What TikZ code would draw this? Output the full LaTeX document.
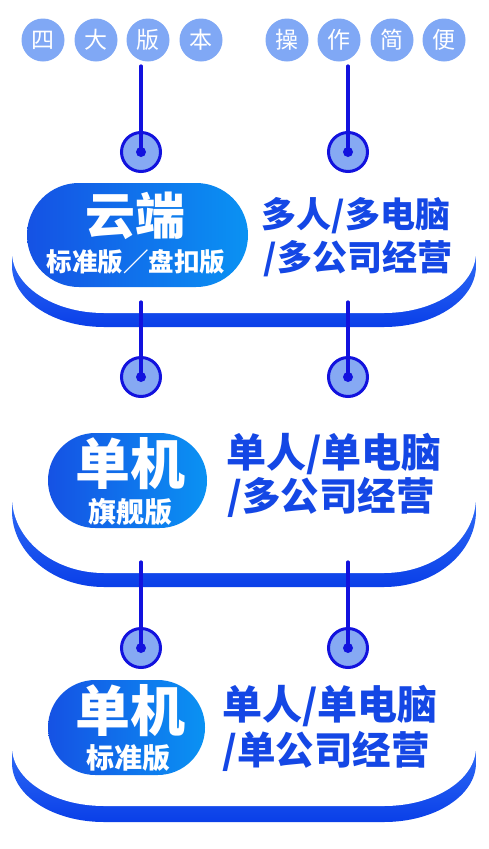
\documentclass[tikz,border=0pt]{standalone}
\usepackage{fontspec}
\setmainfont{Noto Sans CJK SC}
\definecolor{lineblue}{HTML}{1212DE}
\definecolor{dotfill}{HTML}{86A9F3}
\definecolor{topfill}{HTML}{80A8F5}
\definecolor{crestop}{HTML}{2F6CF6}
\definecolor{cresbot}{HTML}{0A3FE8}
\definecolor{textblue}{HTML}{1447E5}
\definecolor{pillleft}{HTML}{1552E4}
\definecolor{pillright}{HTML}{0A92F3}
\newcommand\mycres[4]{%
  \pgfmathsetmacro\ryw{#2-#1}%
  \pgfmathsetmacro\sh{#3-#2}%
  \shade[top color=crestop,bottom color=cresbot] (12,#1) -- (12,{#1+\sh}) .. controls (12,{#1+\sh+0.552*\ryw}) and ({12+0.448*#4},#3) .. ({12+#4},#3) -- ({476-#4},#3) .. controls ({476-0.448*#4},#3) and (476,{#1+\sh+0.552*\ryw}) .. (476,{#1+\sh}) -- (476,#1) -- cycle;
  \fill[white] (12,{#1-2}) -- (12,#1) .. controls (12,{#1+0.552*\ryw}) and ({12+0.448*#4},#2) .. ({12+#4},#2) -- ({476-#4},#2) .. controls ({476-0.448*#4},#2) and (476,{#1+0.552*\ryw}) .. (476,#1) -- (476,{#1-2}) -- cycle;
}
\begin{document}
\begin{tikzpicture}[x=1pt,y=-1pt,
  topc/.style={circle,fill=topfill,minimum size=43pt,inner sep=0pt,text=white,font=\fontsize{23}{23}\selectfont},
  dotc/.style={circle,draw=lineblue,line width=3pt,fill=dotfill,minimum size=39pt,inner sep=0pt},
  conn/.style={draw=lineblue,line width=3.2pt,line cap=round},
  pill/.style={rounded corners=#1,inner sep=0pt,left color=pillleft,right color=pillright},
  wtext/.style={text=white,inner sep=0pt,font=\bfseries\fontsize{#1}{#1}\selectfont},
  btext/.style={text=textblue,inner sep=0pt,font=\bfseries\fontsize{#1}{#1}\selectfont}]
\useasboundingbox (0,0) rectangle (489,849);
\fill[white] (0,0) rectangle (489,849);

% top labels
\node[topc] (t1) at (43,40) {四};
\node[topc] (t2) at (96,40) {大};
\node[topc] (t3) at (148,40) {版};
\node[topc] (t4) at (201,40) {本};
\node[topc] (t5) at (287,40) {操};
\node[topc] (t6) at (339,40) {作};
\node[topc] (t7) at (392,40) {简};
\node[topc] (t8) at (444,40) {便};

% crescents
\mycres{252}{313}{327}{92}
\mycres{497}{573}{587}{92}
\mycres{747}{806}{822}{92}

% connector start points
\coordinate (a1) at (141,66);
\coordinate (b1) at (348,66);
\coordinate (a2) at (141,302);
\coordinate (b2) at (348,302);
\coordinate (a3) at (141,562);
\coordinate (b3) at (348,562);

% dot circles
\node[dotc] (ca1) at (141,152) {};
\node[dotc] (cb1) at (348,152) {};
\node[dotc] (ca2) at (141,377) {};
\node[dotc] (cb2) at (348,377) {};
\node[dotc] (ca3) at (141,648) {};
\node[dotc] (cb3) at (348,648) {};

\draw[conn] (a1) -- (ca1.center);
\draw[conn] (b1) -- (cb1.center);
\draw[conn] (a2) -- (ca2.center);
\draw[conn] (b2) -- (cb2.center);
\draw[conn] (a3) -- (ca3.center);
\draw[conn] (b3) -- (cb3.center);

\foreach \n in {ca1,cb1,ca2,cb2,ca3,cb3}
  \fill[lineblue] (\n.center) circle (5pt);

% block 1
\node[pill=51.9pt,minimum width=221pt,minimum height=104pt] (p1) at (137.5,235) {};
\node[wtext=50] (p1a) at (135,216) {云端};
\node[wtext=25.5] (p1b) at (136,262) {标准版／盘扣版};
\node[btext=35] (r1a) at (356,216) {多人/多电脑};
\node[btext=35] (r1b) at (358,259) {/多公司经营};

% block 2
\node[pill=47.4pt,minimum width=159pt,minimum height=95pt] (p2) at (127.5,480.5) {};
\node[wtext=55] (p2a) at (130,464) {单机};
\node[wtext=28] (p2b) at (130,512) {旗舰版};
\node[btext=40] (r2a) at (334,454) {单人/单电脑};
\node[btext=38.5] (r2b) at (331,497) {/多公司经营};

% block 3
\node[pill=47.4pt,minimum width=157pt,minimum height=95pt] (p3) at (126.5,727.5) {};
\node[wtext=55] (p3a) at (130,711) {单机};
\node[wtext=28] (p3b) at (128,758) {标准版};
\node[btext=40] (r3a) at (330,706) {单人/单电脑};
\node[btext=38.5] (r3b) at (326,751) {/单公司经营};
\end{tikzpicture}
\end{document}
